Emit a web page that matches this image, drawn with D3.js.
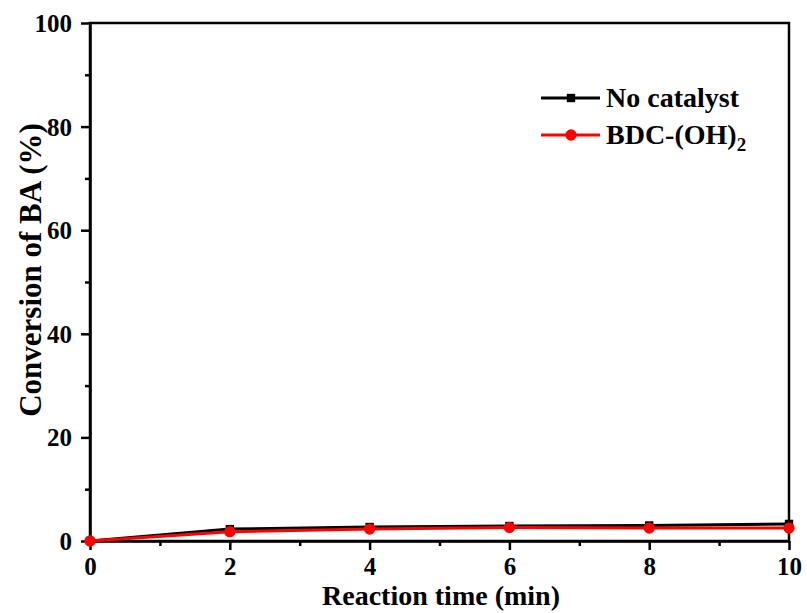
<!DOCTYPE html>
<html>
<head>
<meta charset="utf-8">
<script src="https://cdn.jsdelivr.net/npm/d3@7"></script>
<style>
  body { margin: 0; background: #fff; }
  text { font-family: "Liberation Serif", "Times New Roman", serif; font-weight: bold; }
</style>
</head>
<body>
<svg id="vis" width="807" height="613"></svg>
<script>
// reaction time (min)
var times = [0, 2, 4, 6, 8, 10];
var noCatalyst = [0, 2.3, 2.7, 2.9, 3.0, 3.3];
var bdcOH2 = [0, 1.8, 2.3, 2.6, 2.5, 2.5];
var xTicks = [0, 2, 4, 6, 8, 10];
var yTicks = [0, 20, 40, 60, 80, 100];

var svg = d3.select('#vis');
var plotL = 90, plotR = 789, plotT = 23, plotB = 541;

var x = d3.scaleLinear().domain([0, 10]).range([plotL, plotR]);
var y = d3.scaleLinear().domain([0, 100]).range([plotB, plotT]);

// frame
svg.append('rect')
    .attr('x', plotL).attr('y', plotT)
    .attr('width', plotR - plotL).attr('height', plotB - plotT)
    .attr('fill', 'none').attr('stroke', '#000').attr('stroke-width', 2.5);

// x axis, major + minor
var xAxis = svg.append('g').attr('transform', 'translate(0,' + plotB + ')')
    .call(d3.axisBottom(x).tickValues(xTicks).tickSize(9).tickSizeOuter(0));
svg.append('g').attr('transform', 'translate(0,' + plotB + ')')
    .call(d3.axisBottom(x).tickValues([1, 3, 5, 7, 9]).tickSize(5).tickFormat(''))
    .call(function (g) { g.select('.domain').remove(); });

var yAxis = svg.append('g').attr('transform', 'translate(' + plotL + ',0)')
    .call(d3.axisLeft(y).tickValues(yTicks).tickSize(9).tickSizeOuter(0).tickPadding(9));
svg.append('g').attr('transform', 'translate(' + plotL + ',0)')
    .call(d3.axisLeft(y).tickValues([10, 30, 50, 70, 90]).tickSize(5).tickFormat(''))
    .call(function (g) { g.select('.domain').remove(); });

svg.selectAll('.tick line').attr('stroke-width', 2.5);
svg.selectAll('.domain').attr('stroke-width', 2.5);
xAxis.selectAll('text').attr('font-size', 25).attr('y', 34).attr('dy', 0).attr('fill', '#000');
yAxis.selectAll('text').attr('font-size', 25).attr('dy', '0.34em').attr('fill', '#000');

// axis titles
svg.append('text')
    .attr('x', 441).attr('y', 605)
    .attr('text-anchor', 'middle').attr('font-size', 28)
    .text('Reaction time (min)');
svg.append('text')
    .attr('transform', 'translate(41,270) rotate(-90)')
    .attr('text-anchor', 'middle').attr('font-size', 31)
    .text('Conversion of BA (%)');

var series = [
    { name: 'No catalyst', values: noCatalyst, color: '#000', shape: 'square' },
    { name: 'BDC-(OH)', values: bdcOH2, color: '#f00', shape: 'circle' }
];

var line = d3.line()
    .x(function (d, i) { return x(times[i]); })
    .y(function (d) { return y(d); });

function marker(s) {
    return d3.symbol().type(s.shape === 'square' ? d3.symbolSquare : d3.symbolCircle)
        .size(s.shape === 'square' ? 70 : 100);
}

series.forEach(function (s) {
    svg.append('path')
        .attr('d', line(s.values))
        .attr('fill', 'none').attr('stroke', s.color).attr('stroke-width', 3);
    svg.selectAll(null).data(s.values).enter().append('path')
        .attr('d', marker(s))
        .attr('transform', function (d, i) { return 'translate(' + x(times[i]) + ',' + y(d) + ')'; })
        .attr('fill', s.color);
});

// legend
series.forEach(function (s, i) {
    var ly = 98 + i * 37;
    svg.append('line').attr('x1', 541).attr('x2', 600).attr('y1', ly).attr('y2', ly)
        .attr('stroke', s.color).attr('stroke-width', 3);
    svg.append('path').attr('d', marker(s)).attr('transform', 'translate(571,' + ly + ')').attr('fill', s.color);
    var t = svg.append('text').attr('x', 606).attr('y', ly + 9).attr('font-size', 28).text(s.name);
    if (i === 1) {
        t.append('tspan').attr('font-size', 19).attr('dy', 7).text('2');
    }
});
</script>
</body>
</html>
